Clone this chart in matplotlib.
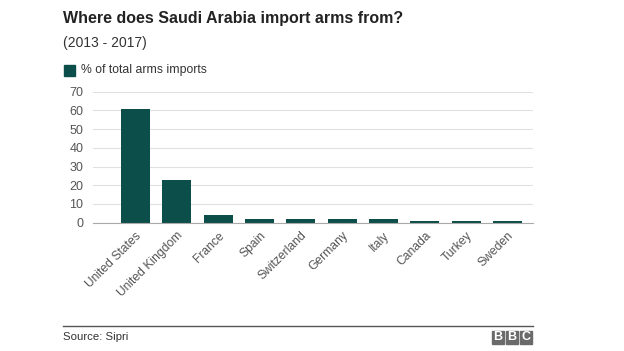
import matplotlib
matplotlib.use("Agg")
import matplotlib.pyplot as plt
from matplotlib.patches import Rectangle

plt.rcParams['font.family'] = ['Liberation Sans', 'DejaVu Sans']

countries = ["United States", "United Kingdom", "France", "Spain", "Switzerland",
             "Germany", "Italy", "Canada", "Turkey", "Sweden"]
share = [61, 23, 4, 2, 2, 2, 2, 1, 1, 1]
yticks = [0, 10, 20, 30, 40, 50, 60, 70]

title = "Where does Saudi Arabia import arms from?"
subtitle = "(2013 - 2017)"
legend_label = "% of total arms imports"
source = "Source: Sipri"

bar_color = "#0c4e49"
W, H = 624, 351
fig = plt.figure(figsize=(W/100, H/100), dpi=100)

# axes in pixel coords
left, right, top, bottom = 93, 533, 91.7, 222.7
ax = fig.add_axes([left/W, 1-bottom/H, (right-left)/W, (bottom-top)/H])
x = list(range(len(countries)))
ax.bar(x, share, width=0.7, color=bar_color, zorder=3)
ax.set_xlim(-1.03, 9.62)
ax.set_ylim(0, 70)
ax.set_yticks(yticks)
ax.set_yticklabels([str(v) for v in yticks], fontsize=9, color="#555555")
ax.set_xticks(x)
ax.set_xticklabels(countries, rotation=45, ha="right", rotation_mode="anchor",
                   fontsize=8.7, color="#555555")
ax.tick_params(axis="y", length=0, pad=7)
ax.tick_params(axis="x", length=0, pad=5)
ax.grid(axis="y", color="#e0e0e0", linewidth=0.8, zorder=0)
for s in ["left", "right", "top"]:
    ax.spines[s].set_visible(False)
ax.spines["bottom"].set_color("#aaaaaa")
ax.spines["bottom"].set_linewidth(0.8)
ax.spines["bottom"].set_zorder(4)

def fy(py):
    return 1 - py/H

fig.text(63/W, fy(18), title, fontsize=11.5, fontweight="bold", color="#222222", va="center")
fig.text(63/W, fy(43), subtitle, fontsize=10, color="#333333", va="center")
fig.patches.append(Rectangle((64/W, fy(75.5)), 10.5/W, 10.5/H, transform=fig.transFigure,
                             color=bar_color, figure=fig))
fig.text(81/W, fy(70.5), legend_label, fontsize=8.8, color="#333333", va="center")

# footer
fig.add_artist(plt.Line2D([63/W, 533/W], [fy(326), fy(326)], transform=fig.transFigure,
                          color="#555555", linewidth=1.0))
fig.text(63/W, fy(337), source, fontsize=8.2, color="#333333", va="center")
bx = 492
for i, letter in enumerate("BBC"):
    x0 = bx + i*14
    fig.patches.append(Rectangle((x0/W, fy(343.5)), 12/W, 12.5/H, transform=fig.transFigure,
                                 color="#6a6a6a", figure=fig))
    fig.text((x0+6)/W, fy(337.3), letter, fontsize=9, fontweight="bold",
             color="white", ha="center", va="center")

fig.savefig("out.png", dpi=100)
